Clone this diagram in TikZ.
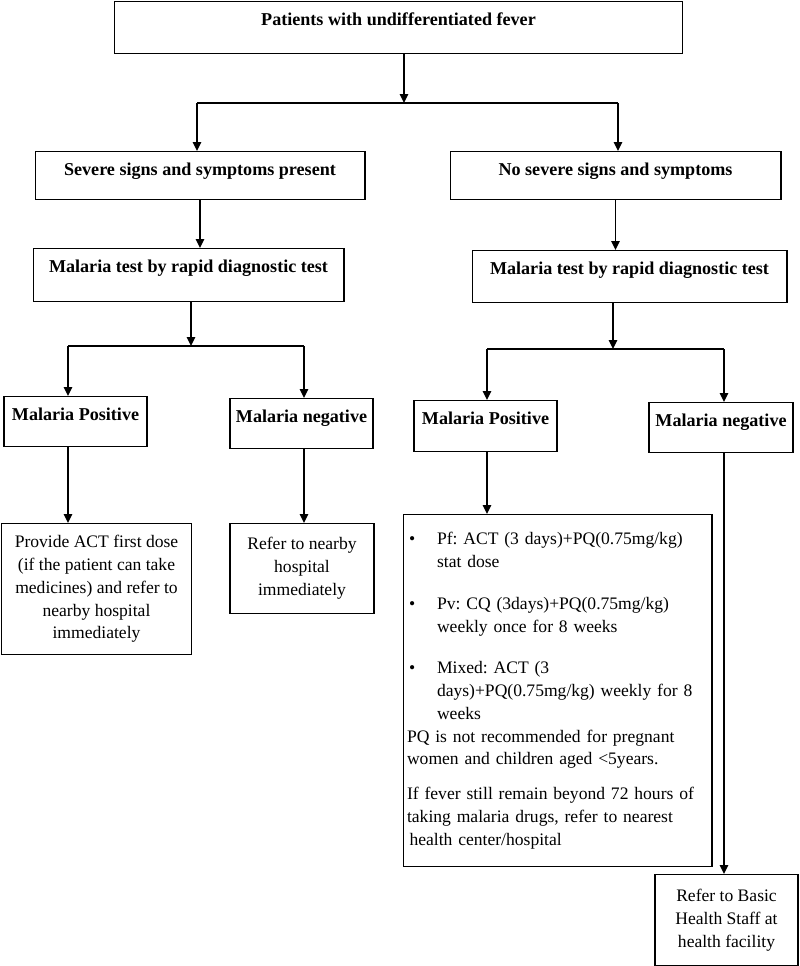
\documentclass[tikz,border=0pt]{standalone}
\usepackage{fontspec}
\setmainfont{Liberation Serif}
\usetikzlibrary{arrows.meta, positioning}
\newcommand{\rxitem}{\makebox[0.6cm][l]{\hspace{0.04cm}\textbullet}}
\newcommand{\rxindent}{\hspace*{0.6cm}}
\frenchspacing

\begin{document}
\begin{tikzpicture}[
        x=0.02cm, y=-0.02cm,
        head/.style={rectangle, draw=black, line width=0.6pt, font=\fontsize{10.3}{12}\selectfont\bfseries, inner sep=0pt, text height=0.48cm, text depth=#1, anchor=north},
        head/.default=0.54cm,
        note/.style={rectangle, draw=black, line width=0.6pt, align=center, inner sep=0pt, font=\fontsize{10}{13}\selectfont, anchor=north},
        arrow/.style={line width=0.8pt, -{Triangle[length=0.18cm, width=0.17cm]}},
        link/.style={line width=0.8pt}
    ]
    \useasboundingbox (0,0) rectangle (799,966);

    % --- NODES ---
    \node (fever) [head=0.56cm, minimum width=11.38cm] at (398.5,1) {Patients with undifferentiated fever};
    \node (severe) [head=0.48cm, minimum width=6.6cm] at (200,151) {Severe signs and symptoms present};
    \node (nosevere) [head=0.48cm, minimum width=6.62cm] at (615.5,151) {No severe signs and symptoms};

    % 2. Rapid test
    \node (testL) [head=0.58cm, minimum width=6.22cm] at (188.5,248) {Malaria test by rapid diagnostic test};
    \node (testR) [head=0.56cm, minimum width=6.3cm] at (629.5,250) {Malaria test by rapid diagnostic test};

    % 3. Results
    \node (posL) [head=0.52cm, minimum width=2.86cm] at (75.5,396) {Malaria Positive};
    \node (negL) [head=0.52cm, minimum width=2.86cm] at (301.5,398) {Malaria negative};
    \node (posR) [head=0.54cm, minimum width=2.86cm] at (485.5,400) {Malaria Positive};
    \node (negR) [head=0.52cm, minimum width=2.88cm] at (721,402) {Malaria negative};

    % 4. What to do
    \node (actL) [note, minimum width=3.8cm, minimum height=2.62cm] at (96.5,523) {Provide ACT first dose\\(if the patient can take\\medicines) and refer to\\nearby hospital\\immediately};
    \node (referL) [note, minimum width=2.88cm, minimum height=1.8cm] at (302,523) {Refer to nearby\\hospital\\immediately};
    \node (rx) [note, align=left, minimum width=6.18cm, minimum height=7.04cm, inner xsep=0.08cm, text width=6.02cm] at (557.5,514) {%
        \rxitem Pf: ACT (3 days)+PQ(0.75mg/kg)\\
        \rxindent stat dose\\[0.4cm]
        \rxitem Pv: CQ (3days)+PQ(0.75mg/kg)\\
        \rxindent weekly once for 8 weeks\\[0.36cm]
        \rxitem Mixed: ACT (3\\
        \rxindent days)+PQ(0.75mg/kg) weekly for 8\\
        \rxindent weeks\\
        PQ is not recommended for pregnant\\
        women and children aged <5years.\\[0.24cm]
        If fever still remain beyond 72 hours of\\
        taking malaria drugs, refer to nearest\\
        \hspace*{0.05cm}health center/hospital};
    \node (basic) [note, minimum width=2.86cm, minimum height=1.82cm] at (726.5,874) {Refer to Basic\\Health Staff at\\health facility};

    % --- ARROWS ---
    \coordinate (split1) at (404,103);
    \coordinate (forkL) at (197,103);
    \coordinate (forkR) at (618,103);
    \draw [arrow] (fever.south -| split1) -- (split1);
    \draw [link] (forkL) -- (forkR);
    \draw [arrow] (forkL) -- (forkL |- severe.north);
    \draw [arrow] (forkR) -- (forkR |- nosevere.north);

    \draw [arrow] (severe.south) -- (severe.south |- testL.north);
    \draw [arrow] (nosevere.south) -- (nosevere.south |- testR.north);

    % Severe path
    \coordinate (split2) at (191,346);
    \coordinate (forkLL) at (68,346);
    \coordinate (forkLR) at (304,346);
    \draw [arrow] (testL.south -| split2) -- (split2);
    \draw [link] (forkLL) -- (forkLR);
    \draw [arrow] (forkLL) -- (forkLL |- posL.north);
    \draw [arrow] (forkLR) -- (forkLR |- negL.north);
    \draw [arrow] (posL.south -| forkLL) -- (forkLL |- actL.north);
    \draw [arrow] (negL.south -| forkLR) -- (forkLR |- referL.north);

    % No severe path
    \coordinate (split3) at (613,349);
    \coordinate (forkRL) at (487,349);
    \coordinate (forkRR) at (724,349);
    \draw [arrow] (testR.south -| split3) -- (split3);
    \draw [link] (forkRL) -- (forkRR);
    \draw [arrow] (forkRL) -- (forkRL |- posR.north);
    \draw [arrow] (forkRR) -- (forkRR |- negR.north);
    \draw [arrow] (posR.south -| forkRL) -- (forkRL |- rx.north);
    \draw [arrow] (negR.south -| forkRR) -- (forkRR |- basic.north);

\end{tikzpicture}
\end{document}
